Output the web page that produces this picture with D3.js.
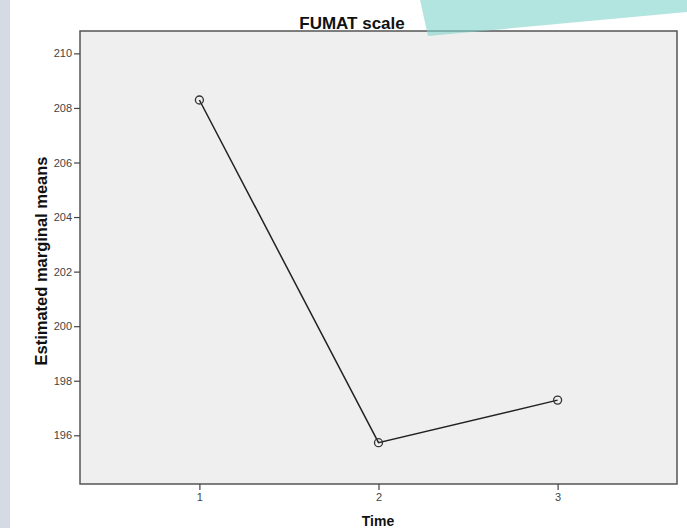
<!DOCTYPE html>
<html><head><meta charset="utf-8">
<script src="https://cdn.jsdelivr.net/npm/d3@7/dist/d3.min.js"></script>
<style>html,body{margin:0;padding:0;background:#fff;}svg{display:block;}</style>
</head><body>
<script>
const times = [1, 2, 3];
const means = [208.29, 195.73, 197.29];
const yTicks = [196, 198, 200, 202, 204, 206, 208, 210];
const xTicks = [1, 2, 3];
const title = "FUMAT scale";
const xLabel = "Time";
const yLabel = "Estimated marginal means";

const W = 687, H = 528;
const svg = d3.select("body").append("svg").attr("width", W).attr("height", H);
const font = "'Liberation Sans', Arial, sans-serif";

// left decorative strip
svg.append("rect").attr("x", 0).attr("y", 0).attr("width", 10).attr("height", H).attr("fill", "#d6dae4");

const plot = {l: 80, t: 31, r: 677, b: 484};
const x = d3.scaleLinear().domain([1/3, 11/3]).range([plot.l, plot.r]);
const y = d3.scaleLinear().domain([194.215, 210.82]).range([plot.b, plot.t]);

svg.append("rect").attr("x", plot.l).attr("y", plot.t)
  .attr("width", plot.r - plot.l).attr("height", plot.b - plot.t)
  .attr("fill", "#efefef").attr("stroke", "#555").attr("stroke-width", 1.5);

const yAxis = svg.append("g").attr("transform", `translate(${plot.l},0)`)
  .call(d3.axisLeft(y).tickValues(yTicks).tickSize(6).tickPadding(2).tickFormat(d3.format("d")));
const xAxis = svg.append("g").attr("transform", `translate(0,${plot.b})`)
  .call(d3.axisBottom(x).tickValues(xTicks).tickSize(6).tickPadding(3).tickFormat(d3.format("d")));
[yAxis, xAxis].forEach(a => {
  a.select(".domain").remove();
  a.selectAll(".tick line").attr("stroke", "#444").attr("stroke-width", 1.2);
  a.selectAll(".tick text").attr("fill", "#444").style("font-family", font).style("font-size", "11px");
});

const pts = times.map((t, i) => [t, means[i]]);
svg.append("path").datum(pts)
  .attr("d", d3.line().x(d => x(d[0])).y(d => y(d[1])))
  .attr("fill", "none").attr("stroke", "#222").attr("stroke-width", 1.5);
svg.selectAll("circle.pt").data(pts).enter().append("circle")
  .attr("cx", d => x(d[0])).attr("cy", d => y(d[1])).attr("r", 4)
  .attr("fill", "none").attr("stroke", "#333").attr("stroke-width", 1.3);

svg.append("text").attr("x", 352).attr("y", 29).attr("text-anchor", "middle")
  .style("font-family", font).style("font-weight", "bold").style("font-size", "17px").attr("fill", "#111").text(title);
svg.append("text").attr("x", 378).attr("y", 526).attr("text-anchor", "middle")
  .style("font-family", font).style("font-weight", "bold").style("font-size", "14px").attr("fill", "#111").text(xLabel);
svg.append("text").attr("transform", `translate(47,261) rotate(-90)`).attr("text-anchor", "middle")
  .style("font-family", font).style("font-weight", "bold").style("font-size", "16.5px").attr("fill", "#111").text(yLabel);

// decorative teal shape at top right
svg.append("path").attr("d", "M420,0 L687,0 L687,12 L428,36 Z")
  .attr("fill", "rgb(128,212,204)").attr("fill-opacity", 0.6);
</script>
</body></html>
